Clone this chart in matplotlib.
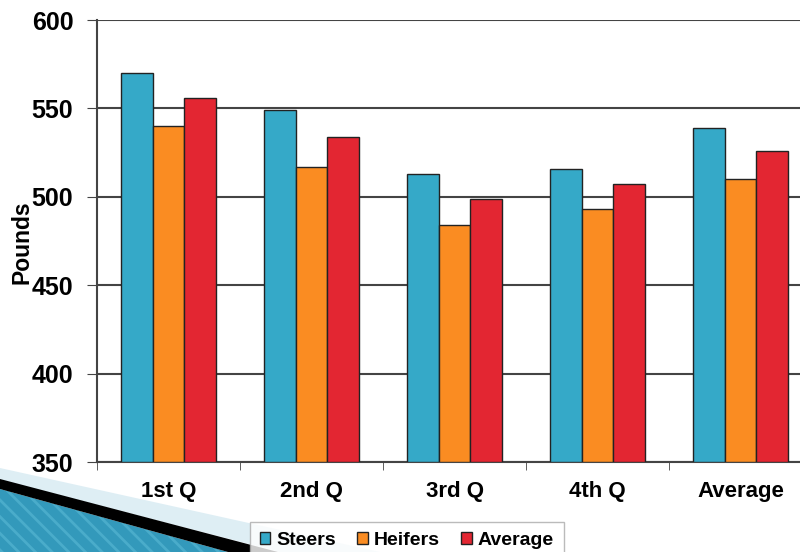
import numpy as np
import matplotlib.pyplot as plt
from matplotlib.patches import Polygon

plt.rcParams['font.family'] = ['Liberation Sans', 'DejaVu Sans']
plt.rcParams['font.weight'] = 'bold'
plt.rcParams['hatch.linewidth'] = 2.0

categories = ['1st Q', '2nd Q', '3rd Q', '4th Q', 'Average']
steers = [570, 549, 513, 516, 539]
heifers = [540, 517, 484, 493, 510]
average = [556, 534, 499, 507, 526]

fig = plt.figure(figsize=(8, 5.52), dpi=100)
W, H = 800, 552

def fc(x, y):
    # pixel coords -> figure fraction
    return (x / W, 1 - y / H)

# decorative swoosh in the lower left corner
haze = Polygon([fc(0, 468), fc(380, 552), fc(280, 552), fc(0, 480)],
               closed=True, transform=fig.transFigure, facecolor='#d6eaf2',
               edgecolor='none', alpha=0.8, zorder=0)
fig.patches.append(haze)
blue = Polygon([fc(0, 489), fc(228, 552), fc(0, 552)], closed=True,
               transform=fig.transFigure, facecolor='#3399bb',
               edgecolor='#4aacca', hatch='\\\\', linewidth=0, zorder=1)
fig.patches.append(blue)
black = Polygon([fc(0, 479), fc(278, 552), fc(228, 552), fc(0, 489)],
                closed=True, transform=fig.transFigure, facecolor='black',
                edgecolor='none', zorder=2)
fig.patches.append(black)

ax = fig.add_axes([97 / W, 1 - 462 / H, 715 / W, 442 / H])
ax.patch.set_alpha(0)

x = np.arange(len(categories))
w = 0.22
colors = ['#35a9c8', '#fa8c22', '#e32632']
for i, (vals, c, lab) in enumerate(zip([steers, heifers, average], colors,
                                       ['Steers', 'Heifers', 'Average'])):
    ax.bar(x + (i - 1) * w, np.array(vals) - 350, width=w, bottom=350,
           color=c, edgecolor='#222222', linewidth=1, label=lab, zorder=3)

ax.set_ylim(350, 600)
ax.set_xlim(-0.5, 4.5)
ax.set_yticks([350, 400, 450, 500, 550, 600])
ax.yaxis.grid(True, color='#444444', linewidth=1.5, zorder=0)
ax.set_axisbelow(True)

ax.set_xticks(x)
ax.set_xticklabels(categories, fontsize=16, fontweight='bold')
ax.set_xticks(np.arange(-0.5, 5, 1), minor=True)
ax.tick_params(axis='x', which='major', length=0, pad=14)
ax.tick_params(axis='x', which='minor', length=6, direction='out', color='#444444')
ax.tick_params(axis='y', length=7, direction='out', color='#444444',
               labelsize=18, pad=10)
for t in ax.get_yticklabels():
    t.set_fontweight('bold')

fig.text(22 / W, 1 - 242 / H, 'Pounds', rotation=90, ha='center', va='center',
         fontsize=16.5, fontweight='bold')

for s in ['top', 'right']:
    ax.spines[s].set_visible(False)
ax.spines['left'].set_color('#444444')
ax.spines['left'].set_linewidth(1.5)
ax.spines['bottom'].set_color('#444444')
ax.spines['bottom'].set_linewidth(1.5)

leg = fig.legend(loc='upper left', bbox_to_anchor=fc(250, 522), ncol=3,
                 frameon=True, fancybox=False, edgecolor='#aaaaaa',
                 prop={'size': 14, 'weight': 'bold'}, handlelength=0.55,
                 handleheight=0.55, handletextpad=0.3, columnspacing=1.1,
                 borderpad=0.5, borderaxespad=0)
leg.get_frame().set_linewidth(1)

fig.savefig('out.png', dpi=100)
